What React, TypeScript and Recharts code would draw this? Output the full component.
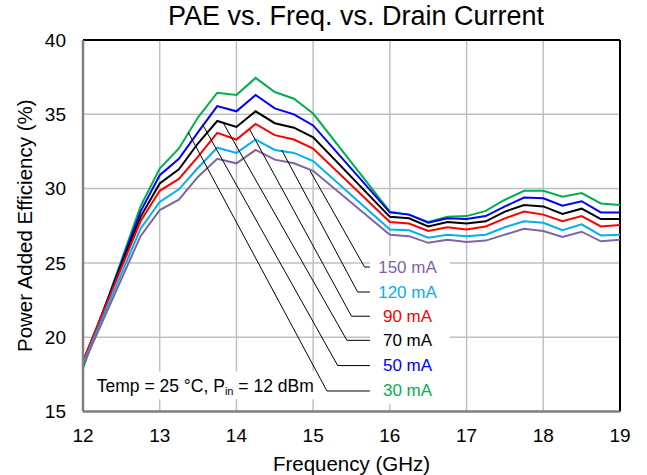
import React from 'react';
import {
  LineChart,
  Line,
  XAxis,
  YAxis,
  CartesianGrid,
  ReferenceLine,
  ReferenceArea,
  ReferenceDot
} from 'recharts';

const freqs = [12, 12.75, 13, 13.25, 13.5, 13.75, 14, 14.25, 14.5, 14.75, 15, 16, 16.25, 16.5, 16.75, 17, 17.25, 17.5, 17.75, 18, 18.25, 18.5, 18.75, 19];

const mA30 = [17.9, 28.8, 31.35, 32.7, 34.8, 36.45, 36.3, 37.45, 36.5, 36.05, 35.05, 28.45, 28.25, 27.75, 28.1, 28.15, 28.5, 29.25, 29.85, 29.85, 29.45, 29.7, 29.0, 28.9];
const mA50 = [18.1, 28.45, 30.9, 32.0, 33.8, 35.55, 35.2, 36.3, 35.4, 35.0, 34.25, 28.4, 28.25, 27.7, 28.0, 27.95, 28.15, 28.8, 29.4, 29.35, 28.85, 29.15, 28.4, 28.4];
const mA70 = [18.3, 28.1, 30.35, 31.3, 33.05, 34.55, 34.15, 35.2, 34.4, 34.1, 33.45, 28.1, 28.0, 27.45, 27.75, 27.65, 27.8, 28.45, 28.9, 28.8, 28.3, 28.65, 27.95, 27.95];
const mA90 = [18.4, 27.8, 29.85, 30.65, 32.15, 33.75, 33.3, 34.35, 33.6, 33.3, 32.7, 27.75, 27.65, 27.15, 27.4, 27.25, 27.45, 28.0, 28.45, 28.25, 27.8, 28.15, 27.45, 27.55];
const mA120 = [18.2, 27.3, 29.1, 29.95, 31.4, 32.75, 32.4, 33.3, 32.6, 32.4, 31.85, 27.25, 27.2, 26.7, 26.9, 26.8, 26.9, 27.4, 27.8, 27.7, 27.2, 27.6, 26.85, 26.9];
const mA150 = [18.1, 26.8, 28.55, 29.25, 30.8, 32.0, 31.7, 32.6, 31.95, 31.7, 31.2, 26.9, 26.8, 26.35, 26.55, 26.4, 26.5, 26.9, 27.3, 27.15, 26.75, 27.1, 26.45, 26.55];

const xTicks = [12, 13, 14, 15, 16, 17, 18, 19];
const yTicks = [15, 20, 25, 30, 35, 40];

const seriesNames = ['30 mA', '50 mA', '70 mA', '90 mA', '120 mA', '150 mA'];
const seriesKeys = ['mA30', 'mA50', 'mA70', 'mA90', 'mA120', 'mA150'];
const seriesColors = ['#00b050', '#0000ff', '#000000', '#ff0000', '#00b0f0', '#8064a2'];

// leader lines: point on the curve -> elbow -> end of horizontal, label y
const leaders = [
  { from: [13.37, 33.8], elbow: [15.18, 16.38], labelY: 16.38 },
  { from: [13.56, 34.3], elbow: [15.32, 18.09], labelY: 18.09 },
  { from: [13.83, 34.4], elbow: [15.44, 19.79], labelY: 19.79 },
  { from: [14.17, 34.0], elbow: [15.5, 21.41], labelY: 21.41 },
  { from: [14.59, 32.6], elbow: [15.58, 23.04], labelY: 23.04 },
  { from: [14.96, 31.2], elbow: [15.67, 24.72], labelY: 24.72 }
];

const data = freqs.map((f, i) => ({
  freq: f,
  mA30: mA30[i],
  mA50: mA50[i],
  mA70: mA70[i],
  mA90: mA90[i],
  mA120: mA120[i],
  mA150: mA150[i]
}));

const FONT = '"Liberation Sans", Arial, sans-serif';

const TextDot = (props: any) => {
  const { cx, cy, text, color } = props;
  return (
    <text x={cx} y={cy} textAnchor="middle" dominantBaseline="central" fill={color} fontSize={17} fontFamily={FONT}>
      {text}
    </text>
  );
};

const TempNote = (props: any) => {
  const { cx, cy } = props;
  return (
    <text x={cx} y={cy} dominantBaseline="central" fill="#000" fontSize={17.5} fontFamily={FONT}>
      Temp = 25 °C, P
      <tspan fontSize={11} dy={5}>in</tspan>
      <tspan dy={-5}> = 12 dBm</tspan>
    </text>
  );
};

export default function App() {
  return (
    <div style={{ position: 'absolute', left: 0, top: 0, width: 647, height: 475, background: '#fff', fontFamily: FONT }}>
      <div style={{ position: 'absolute', left: 0, width: 712, top: 1, textAlign: 'center', fontSize: 27, color: '#000' }}>
        PAE vs. Freq. vs. Drain Current
      </div>
      <LineChart width={647} height={475} data={data} margin={{ top: 40, right: 27, left: 0, bottom: 0 }}>
        <CartesianGrid stroke="#c0c0c0" strokeWidth={1.5} />
        <XAxis
          dataKey="freq"
          type="number"
          domain={[12, 19]}
          ticks={xTicks}
          height={63.5}
          tickLine={false}
          tickMargin={11}
          axisLine={{ stroke: '#808080', strokeWidth: 2.5 }}
          tick={{ fill: '#000', fontSize: 19, fontFamily: FONT }}
          label={{ value: 'Frequency (GHz)', position: 'insideBottom', offset: 4, fill: '#000', fontSize: 20.5, fontFamily: FONT }}
        />
        <YAxis
          type="number"
          domain={[15, 40]}
          ticks={yTicks}
          width={83}
          tickLine={false}
          tickMargin={11}
          axisLine={{ stroke: '#808080', strokeWidth: 2.5 }}
          tick={{ fill: '#000', fontSize: 19, fontFamily: FONT }}
          label={{ value: 'Power Added Efficiency (%)', angle: -90, position: 'center', dx: -17, fill: '#000', fontSize: 20.5, fontFamily: FONT }}
        />
        <ReferenceLine y={40} stroke="#000" strokeWidth={2} />
        <ReferenceLine x={19} stroke="#000" strokeWidth={2} />
        <ReferenceArea x1={15.74} x2={16.78} y1={15.48} y2={25.44} fill="#fff" fillOpacity={1} stroke="none" />
        <ReferenceArea x1={12.09} x2={15.04} y1={15.82} y2={17.7} fill="#fff" fillOpacity={1} stroke="none" />
        {seriesKeys.map((k, i) => (
          <Line
            key={k}
            dataKey={k}
            name={seriesNames[i]}
            type="linear"
            stroke={seriesColors[i]}
            strokeWidth={2}
            dot={false}
            isAnimationActive={false}
          />
        ))}
        {leaders.map((l, i) => (
          <ReferenceLine
            key={'d' + i}
            segment={[{ x: l.from[0], y: l.from[1] }, { x: l.elbow[0], y: l.elbow[1] }]}
            stroke="#000"
            strokeWidth={1}
          />
        ))}
        {leaders.map((l, i) => (
          <ReferenceLine
            key={'h' + i}
            segment={[{ x: l.elbow[0], y: l.elbow[1] }, { x: 15.74, y: l.elbow[1] }]}
            stroke="#000"
            strokeWidth={1}
          />
        ))}
        {leaders.map((l, i) => (
          <ReferenceDot
            key={'t' + i}
            x={16.23}
            y={l.labelY}
            r={0}
            shape={(p: any) => <TextDot {...p} text={seriesNames[i]} color={seriesColors[i]} />}
          />
        ))}
        <ReferenceDot x={12.18} y={16.7} r={0} shape={(p: any) => <TempNote {...p} />} />
      </LineChart>
    </div>
  );
}
